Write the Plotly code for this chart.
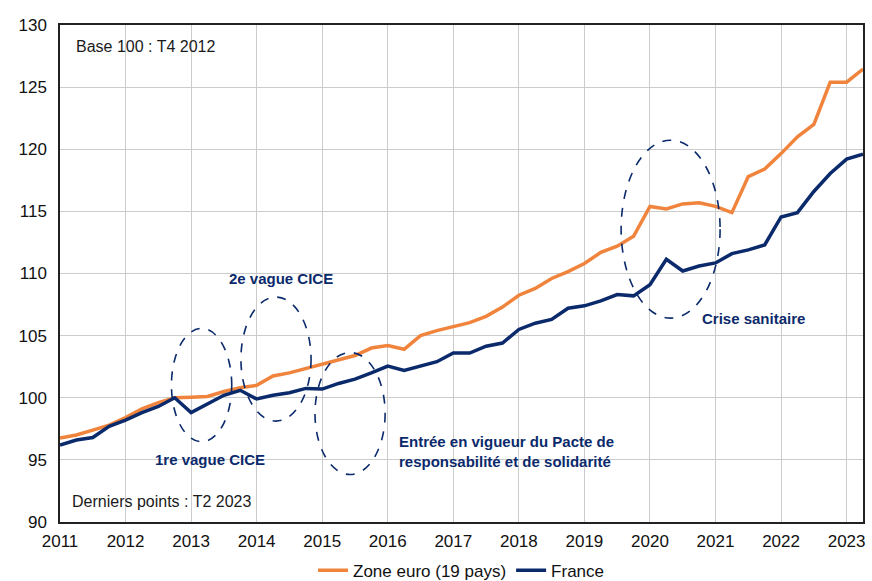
import plotly.graph_objects as go

# Quarterly data, T1 2011 .. T2 2023 (base 100 = T4 2012)
quarters = [2011 + 0.25 * i for i in range(50)]
zone_euro = [96.75, 97.0, 97.4, 97.8, 98.4, 99.1, 99.6, 100.0, 100.05, 100.1,
             100.5, 100.8, 101.0, 101.75, 102.0, 102.35, 102.7, 103.1, 103.4, 104.0,
             104.2, 103.9, 105.0, 105.4, 105.7, 106.05, 106.55, 107.3, 108.25, 108.8,
             109.6, 110.15, 110.8, 111.7, 112.2, 113.0, 115.4, 115.2, 115.6, 115.7,
             115.4, 114.9, 117.8, 118.4, 119.65, 121.0, 122.0, 125.4, 125.4, 126.45]
france = [96.2, 96.6, 96.8, 97.7, 98.2, 98.8, 99.3, 100.0, 98.8, 99.5,
          100.2, 100.6, 99.9, 100.2, 100.4, 100.75, 100.7, 101.15, 101.5, 102.0,
          102.55, 102.2, 102.55, 102.9, 103.6, 103.6, 104.15, 104.4, 105.5, 106.0,
          106.3, 107.2, 107.4, 107.8, 108.3, 108.2, 109.1, 111.15, 110.2, 110.6,
          110.85, 111.6, 111.9, 112.3, 114.55, 114.9, 116.6, 118.05, 119.2, 119.6]
year_ticks = list(range(2011, 2024))
y_ticks = list(range(90, 131, 5))

ORANGE = "#F0843C"
NAVY = "#0B2A6B"
FONT = "Liberation Sans, Arial, sans-serif"

fig = go.Figure()
fig.add_trace(go.Scatter(x=quarters, y=zone_euro, mode="lines", name="Zone euro (19 pays)",
                         line=dict(color=ORANGE, width=3.5), cliponaxis=False))
fig.add_trace(go.Scatter(x=quarters, y=france, mode="lines", name="France",
                         line=dict(color=NAVY, width=3.5), cliponaxis=False))

ellipses = [
    (2012.70, 2013.62, 96.46, 105.58),
    (2013.76, 2014.83, 98.12, 108.10),
    (2014.89, 2015.96, 93.82, 103.64),
    (2019.56, 2021.07, 106.41, 120.73),
]
for x0, x1, y0, y1 in ellipses:
    fig.add_shape(type="circle", xref="x", yref="y", x0=x0, x1=x1, y0=y0, y1=y1,
                  line=dict(color=NAVY, width=1.6, dash="dash"))

lab_font = dict(family=FONT, size=15, color=NAVY)
fig.add_annotation(x=2014.37, y=109.63, text="<b>2e vague CICE</b>", showarrow=False, font=lab_font)
fig.add_annotation(x=2013.29, y=95.07, text="<b>1re vague CICE</b>", showarrow=False, font=lab_font)
fig.add_annotation(x=2016.14, y=95.71, xanchor="left", align="left", showarrow=False, font=lab_font,
                   text="<b>Entrée en vigueur du Pacte de<br>responsabilité et de solidarité</b>")
fig.add_annotation(x=2021.58, y=106.41, text="<b>Crise sanitaire</b>", showarrow=False, font=lab_font)

note_font = dict(family=FONT, size=16, color="#1a1a1a")
fig.add_annotation(xref="paper", yref="paper", x=0.0174, y=0.956, xanchor="left", yanchor="middle",
                   text="Base 100 : T4 2012", showarrow=False, font=note_font)
fig.add_annotation(xref="paper", yref="paper", x=0.0125, y=0.042, xanchor="left", yanchor="middle",
                   text="Derniers points : T2 2023", showarrow=False, font=note_font)

fig.update_layout(
    width=872, height=581,
    margin=dict(l=60, r=9, t=25, b=59, autoexpand=False),
    paper_bgcolor="white", plot_bgcolor="white",
    font=dict(family=FONT, size=17, color="#111111"),
    showlegend=True,
    legend=dict(orientation="h", x=0.5, xanchor="center", y=-0.062, yanchor="top",
                font=dict(family=FONT, size=17, color="#111111"),
                tracegroupgap=0),
    xaxis=dict(range=[2011, 2023.25], tickmode="array", tickvals=year_ticks,
               ticktext=[str(y) for y in year_ticks], automargin=False,
               showgrid=True, gridcolor="#cccccc", gridwidth=1,
               showline=True, linecolor="#222222", linewidth=1.5, mirror=True,
               ticks="outside", ticklen=3, tickcolor="white",
               zeroline=False, tickfont=dict(size=17)),
    yaxis=dict(range=[90, 130], tickmode="array", tickvals=y_ticks, automargin=False,
               showgrid=True, gridcolor="#cccccc", gridwidth=1,
               showline=True, linecolor="#222222", linewidth=1.5, mirror=True,
               ticks="outside", ticklen=8, tickcolor="white",
               zeroline=False, tickfont=dict(size=17)),
)

fig.write_html("out.html", config={"displayModeBar": False},
               post_script="document.body.style.margin='0';document.body.style.overflow='hidden';")
